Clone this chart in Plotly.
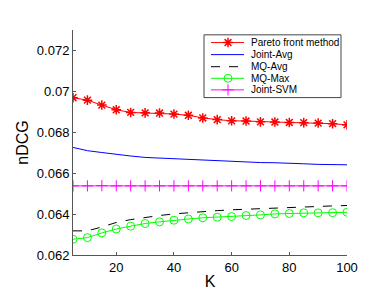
import plotly.graph_objects as go

K = [5, 10, 15, 20, 25, 30, 35, 40, 45, 50, 55, 60, 65, 70, 75, 80, 85, 90, 95, 100]
pareto = [0.06969, 0.06957, 0.06933, 0.06910, 0.06897, 0.06895, 0.06894, 0.06889, 0.06883, 0.06870,
          0.06862, 0.06856, 0.06855, 0.06851, 0.06850, 0.06848, 0.06847, 0.06845, 0.06842, 0.06836]
joint_avg = [0.06726, 0.06710, 0.06701, 0.06691, 0.06684, 0.06677, 0.06674, 0.06668, 0.06665, 0.06662,
             0.06660, 0.06657, 0.06655, 0.06652, 0.06651, 0.06647, 0.06646, 0.06643, 0.06643, 0.06641]
mq_avg = [0.06318, 0.06318, 0.06337, 0.06359, 0.06373, 0.06384, 0.06393, 0.06401, 0.06407, 0.06412,
          0.06417, 0.06421, 0.06424, 0.06428, 0.06431, 0.06434, 0.06437, 0.06439, 0.06440, 0.06442]
mq_max = [0.06277, 0.06285, 0.06308, 0.06327, 0.06341, 0.06354, 0.06362, 0.06370, 0.06376, 0.06382,
          0.06385, 0.06388, 0.06393, 0.06396, 0.06401, 0.06403, 0.06406, 0.06406, 0.06407, 0.06409]
joint_svm = [0.06538, 0.06538, 0.06539, 0.06538, 0.06538, 0.06538, 0.06538, 0.06538, 0.06538, 0.06538,
             0.06538, 0.06538, 0.06538, 0.06538, 0.06538, 0.06538, 0.06538, 0.06538, 0.06538, 0.06538]
series_names = ["Pareto front method", "Joint-Avg", "MQ-Avg", "MQ-Max", "Joint-SVM"]
x_ticks = [20, 40, 60, 80, 100]
y_ticks = [0.062, 0.064, 0.066, 0.068, 0.070, 0.072]
y_tick_labels = ["0.062", "0.064", "0.066", "0.068", "0.07", "0.072"]

# styles
styles = [
    dict(color="#ff0000", dash="solid", symbol="asterisk-open", lw=1.5),
    dict(color="#0000ff", dash="solid", symbol=None, lw=1),
    dict(color="#000000", dash="dash", symbol=None, lw=1),
    dict(color="#00ff00", dash="solid", symbol="circle-open", lw=1),
    dict(color="#ff00ff", dash="solid", symbol="cross-thin-open", lw=1),
]
series = [pareto, joint_avg, mq_avg, mq_max, joint_svm]

W, H = 374, 292
ML, MR, MT, MB = 65, 35, 22, 37
PW, PH = W - ML - MR, H - MT - MB


def px2paper(px, py):
    return (px - ML) / PW, (H - MB - py) / PH


fig = go.Figure()
for name, ys, st in zip(series_names, series, styles):
    mode = "lines+markers" if st["symbol"] else "lines"
    marker = dict(symbol=st["symbol"], size=8, color=st["color"],
                  line=dict(color=st["color"], width=st["lw"])) if st["symbol"] else None
    fig.add_trace(go.Scatter(x=K, y=ys, name=name, mode=mode, showlegend=False,
                             line=dict(color=st["color"], width=1, dash=st["dash"]),
                             marker=marker))

# custom compact legend (MATLAB style)
shapes = []
annotations = []
bx0, by0 = px2paper(196, 27)
bx1, by1 = px2paper(333, 92)
shapes.append(dict(type="rect", xref="paper", yref="paper", x0=bx0, x1=bx1, y0=by1, y1=by0,
                   line=dict(color="#444444", width=1), fillcolor="white", layer="below"))
row_py = [35, 47.5, 60, 72, 84]
leg_mx, leg_my, leg_sym, leg_col, leg_lw = [], [], [], [], []
for name, st, py in zip(series_names, styles, row_py):
    lx0, ly = px2paper(203, py)
    lx1, _ = px2paper(236, py)
    shapes.append(dict(type="line", xref="paper", yref="paper", x0=lx0, x1=lx1, y0=ly, y1=ly,
                       line=dict(color=st["color"], width=1, dash=st["dash"]), layer="below"))
    tx, _ = px2paper(241, py)
    annotations.append(dict(xref="paper", yref="paper", x=tx, y=ly, text=name, showarrow=False,
                            xanchor="left", yanchor="middle", font=dict(size=10, color="#000000")))
    if st["symbol"]:
        mx, _ = px2paper(220, py)
        leg_mx.append(mx)
        leg_my.append(ly)
        leg_sym.append(st["symbol"])
        leg_col.append(st["color"])
        leg_lw.append(st["lw"])

fig.add_trace(go.Scatter(x=leg_mx, y=leg_my, mode="markers", showlegend=False, xaxis="x2", yaxis="y2",
                         cliponaxis=False, hoverinfo="skip",
                         marker=dict(symbol=leg_sym, size=8, color=leg_col,
                                     line=dict(color=leg_col, width=leg_lw))))

fig.update_layout(
    width=W, height=H,
    margin=dict(l=ML, r=MR, t=MT, b=MB),
    paper_bgcolor="white", plot_bgcolor="white",
    font=dict(family="Liberation Sans, Arial, sans-serif", color="#000000", size=13),
    showlegend=False,
    shapes=shapes,
    annotations=annotations,
    xaxis=dict(range=[5, 100], tickvals=x_ticks, ticks="inside", ticklen=3,
               showline=True, linecolor="#555555", linewidth=1, mirror=False,
               showgrid=False, zeroline=False, tickcolor="#555555",
               title=dict(text="K", font=dict(size=16), standoff=2)),
    yaxis=dict(range=[0.062, 0.073], tickvals=y_ticks, ticktext=y_tick_labels,
               ticks="inside", ticklen=3,
               showline=True, linecolor="#555555", linewidth=1, mirror=False,
               showgrid=False, zeroline=False, tickcolor="#555555",
               title=dict(text="nDCG", font=dict(size=16), standoff=4)),
    xaxis2=dict(overlaying="x", range=[0, 1], visible=False, fixedrange=True),
    yaxis2=dict(overlaying="y", range=[0, 1], visible=False, fixedrange=True),
)

fig.write_html("out.html")
